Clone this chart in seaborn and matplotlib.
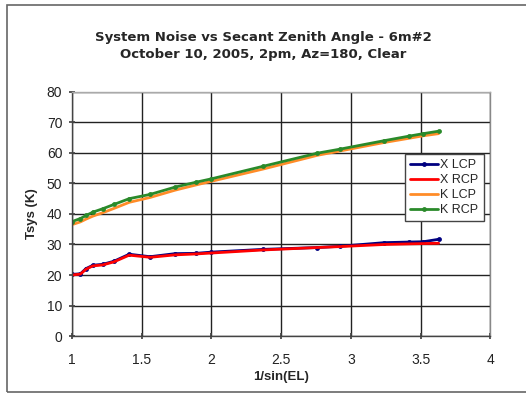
import matplotlib
matplotlib.use("Agg")
import matplotlib.pyplot as plt
import seaborn as sns
import pandas as pd
from matplotlib.patches import Rectangle

sns.set_theme(style="white")
plt.rcParams['font.family'] = ['Liberation Sans', 'DejaVu Sans']

x_vals = [1.00, 1.06, 1.10, 1.15, 1.22, 1.30, 1.41, 1.56, 1.74, 1.89, 2.00, 2.37, 2.76, 2.92, 3.24, 3.42, 3.52, 3.63]
x_lcp = [20.2, 20.4, 22.1, 23.2, 23.5, 24.5, 26.8, 26.0, 27.0, 27.1, 27.5, 28.4, 29.0, 29.4, 30.6, 30.8, 30.9, 31.7]
x_rcp = [20.0, 20.3, 21.9, 23.0, 23.3, 24.3, 26.5, 25.8, 26.6, 26.9, 27.2, 28.2, 29.0, 29.3, 30.0, 30.2, 30.3, 30.4]
k_lcp = [36.5, 37.4, 38.3, 39.3, 40.4, 41.8, 43.8, 45.4, 47.8, 49.5, 50.7, 54.7, 59.2, 60.6, 63.4, 64.8, 65.6, 66.3]
k_rcp = [37.5, 38.5, 39.5, 40.6, 41.7, 43.1, 45.0, 46.4, 48.8, 50.4, 51.5, 55.6, 59.9, 61.2, 64.0, 65.5, 66.3, 67.1]

series_names = ["X LCP", "X RCP", "K LCP", "K RCP"]
series_vals = [x_lcp, x_rcp, k_lcp, k_rcp]
colors = ["#000080", "#ff0000", "#ff8c28", "#2a8a2a"]
markers = ["o", None, None, "o"]

fig = plt.figure(figsize=(5.26, 3.94), dpi=100)
ax = fig.add_axes([0.137, 0.147, 0.795, 0.620])

for name, vals, c, m in zip(series_names, series_vals, colors, markers):
    df = pd.DataFrame({"x": x_vals, "y": vals})
    sns.lineplot(data=df, x="x", y="y", ax=ax, color=c, linewidth=2.0,
                 marker=m if m else "", markersize=3.5, markeredgewidth=0,
                 label=name)

ax.set_xlim(1, 4)
ax.set_ylim(0, 80)
ax.set_xticks([1, 1.5, 2, 2.5, 3, 3.5, 4])
ax.set_xticklabels(["1", "1.5", "2", "2.5", "3", "3.5", "4"])
ax.set_yticks(range(0, 81, 10))
ax.grid(True, color="#222222", linewidth=1.0)
for s in ax.spines.values():
    s.set_color("#444444")
    s.set_linewidth(1.0)
ax.spines["top"].set_color("#aaaaaa")
ax.spines["right"].set_color("#888888")
ax.tick_params(axis="both", labelsize=10, colors="#222222", length=4, direction="inout",
               bottom=True, left=True, color="#444444")
ax.tick_params(axis="x", pad=10)
ax.tick_params(axis="y", pad=5)
ax.set_xlabel("1/sin(EL)", fontsize=9.5, fontweight="bold", labelpad=3)
ax.set_ylabel("Tsys (K)", fontsize=9.5, fontweight="bold", labelpad=6)

fig.text(0.5, 0.905, "System Noise vs Secant Zenith Angle - 6m#2", ha="center", va="center",
         fontsize=9.5, fontweight="bold", family=["DejaVu Sans"])
fig.text(0.5, 0.862, "October 10, 2005, 2pm, Az=180, Clear", ha="center", va="center",
         fontsize=9.5, fontweight="bold", family=["DejaVu Sans"])

leg = ax.legend(loc="upper left", bbox_to_anchor=(0.797, 0.745), frameon=True, fancybox=False,
                fontsize=9, handlelength=2.2, handletextpad=0.2, borderpad=0.4,
                labelspacing=0.25, borderaxespad=0)
leg.get_frame().set_edgecolor("#444444")
leg.get_frame().set_linewidth(1.0)
leg.get_frame().set_facecolor("white")
leg.get_frame().set_alpha(1.0)

fig.patches.append(Rectangle((0.0133, 0.005), 1.1, 0.982, transform=fig.transFigure,
                             fill=False, edgecolor="#666666", linewidth=1.2))

fig.savefig("out.png", dpi=100)
